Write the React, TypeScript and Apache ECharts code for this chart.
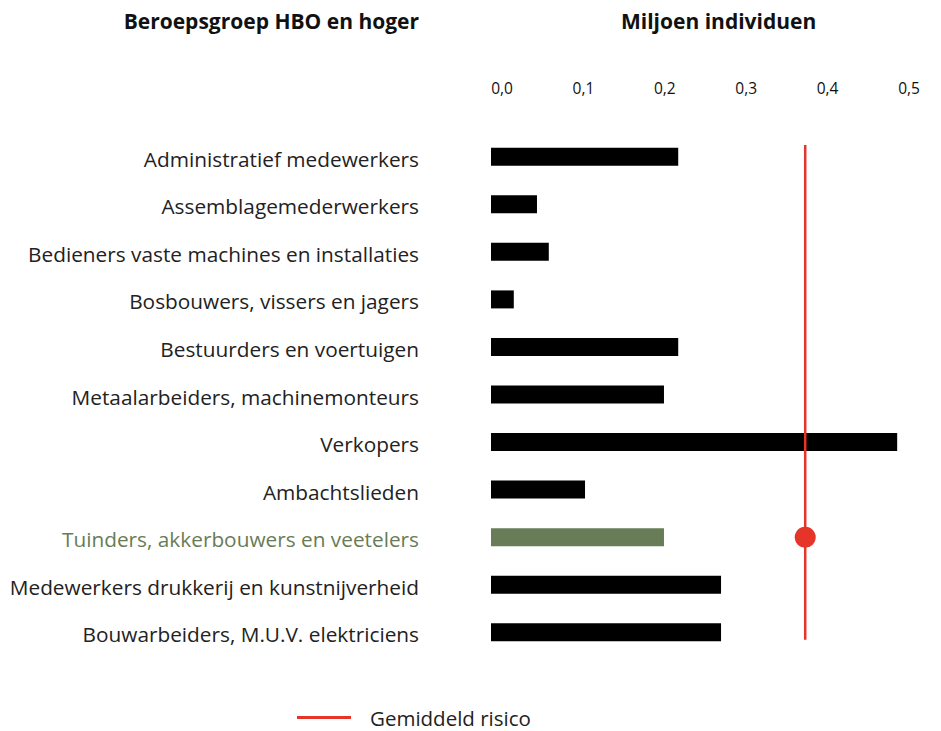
import React, { useEffect, useRef } from "react";
import * as echarts from "echarts";

const categories = [
  "Administratief medewerkers",
  "Assemblagemederwerkers",
  "Bedieners vaste machines en installaties",
  "Bosbouwers, vissers en jagers",
  "Bestuurders en voertuigen",
  "Metaalarbeiders, machinemonteurs",
  "Verkopers",
  "Ambachtslieden",
  "Tuinders, akkerbouwers en veetelers",
  "Medewerkers drukkerij en kunstnijverheid",
  "Bouwarbeiders, M.U.V. elektriciens",
];
const values = [0.23, 0.0565, 0.071, 0.028, 0.23, 0.2125, 0.499, 0.1155, 0.2125, 0.2826, 0.2826];
const highlightCategory = "Tuinders, akkerbouwers en veetelers";
const averageRisk = 0.386;
const tickValues = [0, 0.1, 0.2, 0.3, 0.4, 0.5];

const GREEN = "#687c57";
const RED = "#e5352b";
const FONT = "Open Sans";

export default function App() {
  const ref = useRef<HTMLDivElement>(null);
  useEffect(() => {
    document.body.style.margin = "0";
    const chart = echarts.init(ref.current!, null, { renderer: "svg" });
    chart.setOption({
      animation: false,
      textStyle: { fontFamily: FONT },
      graphic: [
        {
          type: "text",
          right: 941 - 419,
          top: 10,
          style: { text: "Beroepsgroep HBO en hoger", font: `bold 21px "${FONT}"`, fill: "#111" },
        },
        {
          type: "text",
          left: 621,
          top: 10,
          style: { text: "Miljoen individuen", font: `bold 21px "${FONT}"`, fill: "#111" },
        },
      ],
      legend: {
        left: 297,
        top: 707,
        padding: 0,
        data: [{ name: "Gemiddeld risico", icon: "rect" }],
        itemWidth: 54,
        itemHeight: 3,
        textStyle: { fontSize: 20.5, color: "#222", padding: [0, 0, 0, 14], fontFamily: FONT },
      },
      grid: { left: 491, right: 43, top: 133, bottom: 75, containLabel: false },
      xAxis: [
        {
          type: "value",
          position: "top",
          min: 0,
          max: 0.5,
          interval: 0.1,
          axisLine: { show: false },
          axisTick: { show: false },
          splitLine: { show: false },
          axisLabel: {
            margin: 37,
            fontSize: 15.5,
            color: "#111",
            padding: [0, 0, 0, 22],
            formatter: (v: number) => v.toFixed(1).replace(".", ","),
            customValues: tickValues,
          },
        },
      ],
      yAxis: [
        {
          type: "category",
          data: categories,
          inverse: true,
          axisLine: { show: false },
          axisTick: { show: false },
          axisLabel: {
            margin: 72,
            fontSize: 20.8,
            color: "#222",
            fontFamily: FONT,
            padding: [4, 0, 0, 0],
            formatter: (v: string) => (v === highlightCategory ? `{g|${v}}` : v),
            rich: { g: { color: GREEN, fontSize: 20.8, fontFamily: FONT } },
          },
        },
        {
          type: "value",
          min: 0,
          max: 1,
          show: false,
        },
      ],
      series: [
        {
          type: "bar",
          barWidth: 18,
          data: values.map((v, i) => ({
            value: v,
            itemStyle: { color: categories[i] === highlightCategory ? GREEN : "#000" },
          })),
          z: 2,
        },
        {
          name: "Gemiddeld risico",
          type: "line",
          yAxisIndex: 1,
          data: [
            [averageRisk, 0.031],
            [averageRisk, 0.977],
          ],
          symbol: "none",
          lineStyle: { color: RED, width: 2.5 },
          itemStyle: { color: RED },
          z: 3,
        },
        {
          type: "scatter",
          data: [[averageRisk, highlightCategory]],
          symbolSize: 21,
          itemStyle: { color: RED, opacity: 1 },
          z: 4,
        },
      ],
    });
    return () => chart.dispose();
  }, []);
  return <div ref={ref} style={{ width: 941, height: 731 }} />;
}
